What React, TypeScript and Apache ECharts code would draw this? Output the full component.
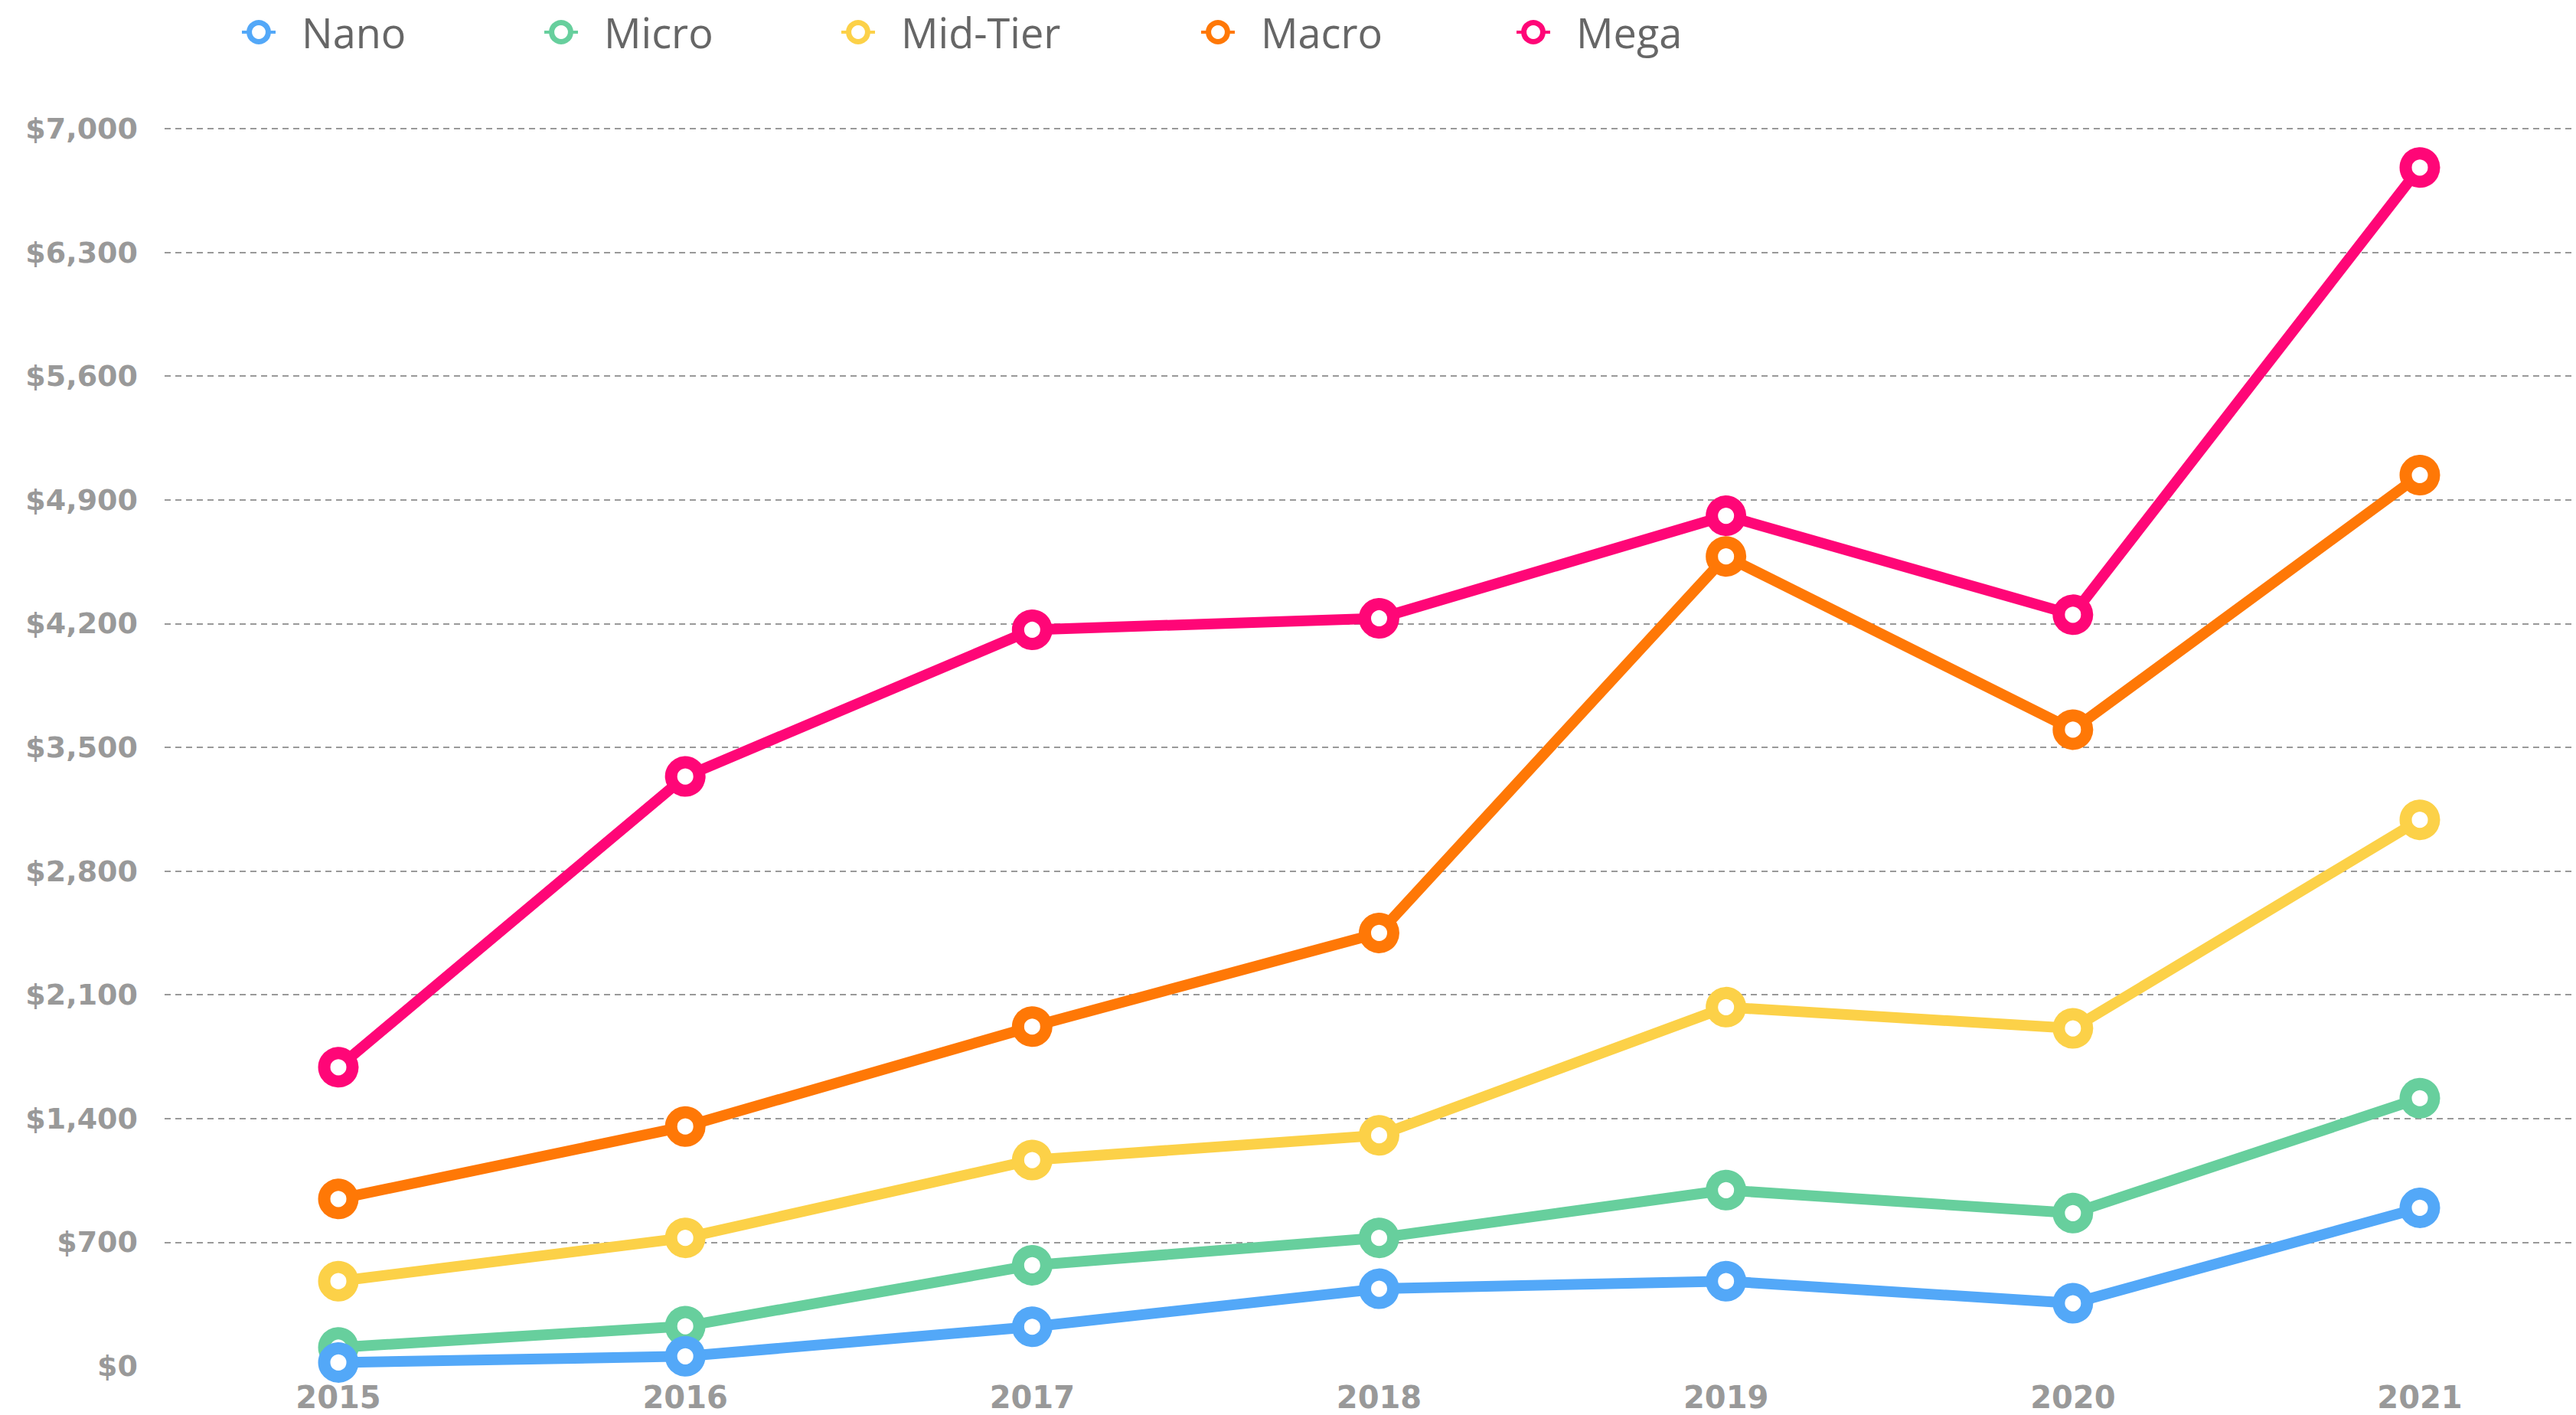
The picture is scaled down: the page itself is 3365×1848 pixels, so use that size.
import React, { useEffect, useRef } from "react";
import * as echarts from "echarts";

const years = ["2015", "2016", "2017", "2018", "2019", "2020", "2021"];
const seriesNames = ["Nano", "Micro", "Mid-Tier", "Macro", "Mega"];
const nano = [20, 55, 222, 437, 480, 355, 895];
const micro = [105, 225, 570, 725, 995, 865, 1515];
const midTier = [480, 725, 1165, 1305, 2030, 1910, 3090];
const macro = [945, 1355, 1920, 2450, 4580, 3600, 5040];
const mega = [1690, 3335, 4165, 4230, 4810, 4250, 6780];
const seriesValues = [nano, micro, midTier, macro, mega];
const colors = ["#53A8F8", "#67CF9D", "#FCD148", "#FF7806", "#FF0677"];
const legendLefts = [309, 704, 1092, 1562, 1974];

export default function App() {
  const ref = useRef<HTMLDivElement>(null);
  useEffect(() => {
    if (!ref.current) return;
    const chart = echarts.init(ref.current, undefined, { renderer: "svg" });
    const yBase = {
      type: "value",
      min: 0,
      max: 7000,
      interval: 700,
    };
    const option: any = {
      animation: false,
      backgroundColor: "#ffffff",
      legend: seriesNames.map((name, i) => ({
        data: [name],
        left: legendLefts[i],
        top: 10,
        itemWidth: 44,
        itemHeight: 31,
        itemStyle: { borderWidth: 7 },
        lineStyle: { width: 4 },
        textStyle: {
          fontFamily: "Open Sans",
          fontSize: 54,
          color: "#666666",
          padding: [0, 0, 0, 29],
        },
      })),
      grid: [
        { left: 215, right: 0, top: 168, bottom: 64 },
        { left: 442, right: 204, top: 168, bottom: 64 },
      ],
      xAxis: [
        { type: "value", gridIndex: 0, show: false, min: 0, max: 1 },
        {
          type: "category",
          gridIndex: 1,
          data: years,
          boundaryGap: false,
          axisLine: { show: false },
          axisTick: { show: false },
          splitLine: { show: false },
          axisLabel: {
            color: "#999999",
            fontFamily: "DejaVu Sans",
            fontWeight: "bold",
            fontSize: 40,
            margin: 21,
          },
        },
      ],
      yAxis: [
        {
          ...yBase,
          gridIndex: 0,
          axisLine: { show: false },
          axisTick: { show: false },
          axisLabel: {
            color: "#999999",
            fontFamily: "DejaVu Sans",
            fontWeight: "bold",
            fontSize: 38,
            margin: 35,
            formatter: (v: number) => "$" + v.toLocaleString("en-US"),
          },
          splitLine: {
            show: true,
            showMinLine: false,
            lineStyle: { type: [8, 6], color: "#999999", width: 2 },
          },
        },
        {
          ...yBase,
          gridIndex: 1,
          show: false,
          splitLine: { show: false },
        },
      ],
      series: seriesNames.map((name, i) => ({
        name,
        type: "line",
        xAxisIndex: 1,
        yAxisIndex: 1,
        data: seriesValues[i],
        z: 10 - i,
        symbol: "circle",
        symbolSize: 37,
        color: colors[i],
        lineStyle: { width: 14, color: colors[i] },
        itemStyle: { color: "#ffffff", borderColor: colors[i], borderWidth: 16 },
      })),
    };
    chart.setOption(option);
    return () => chart.dispose();
  }, []);
  return (
    <div
      ref={ref}
      style={{ position: "fixed", left: 0, top: 0, width: 3365, height: 1848 }}
    />
  );
}
